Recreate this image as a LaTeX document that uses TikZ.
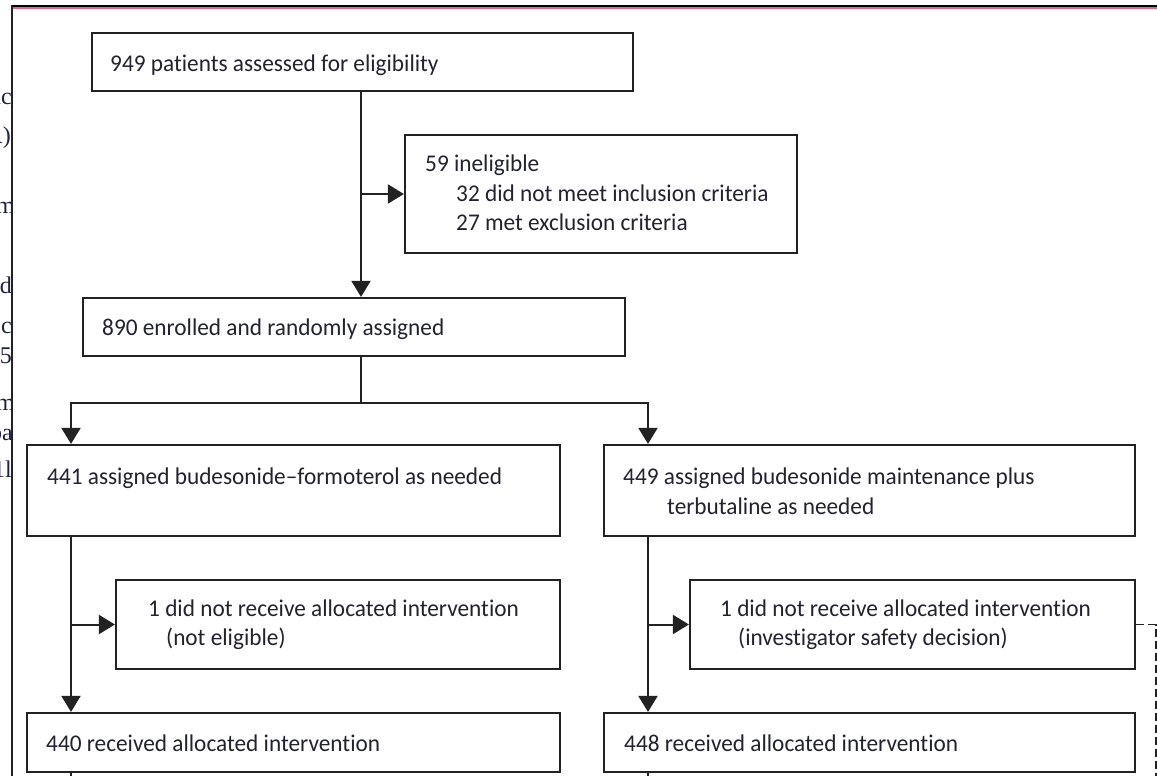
\documentclass[tikz,border=0pt]{standalone}
\usepackage{fontspec}
\setmainfont[Ligatures={TeX,NoCommon},FakeStretch=0.97]{Carlito}
\newfontfamily\fragfont{Liberation Serif}
\usetikzlibrary{arrows.meta,fit}
\definecolor{ink}{HTML}{222230}
\definecolor{rulecol}{HTML}{222222}
\definecolor{pinkrule}{HTML}{DC6A86}
\definecolor{navy}{HTML}{1E2440}
\tikzset{
  box/.style={draw=rulecol, line width=2.2pt, inner sep=0pt, rectangle},
  txt/.style={anchor=base west, inner sep=0pt, text=ink, font=\fontsize{24}{30}\selectfont},
  frag/.style={anchor=base east, inner sep=0pt, text=navy, font=\fragfont\fontsize{24}{30}\selectfont},
  conn/.style={draw=rulecol, line width=2pt},
  arr/.style={conn, -{Triangle[width=19pt,length=16pt]}},
  dashconn/.style={draw=rulecol, line width=1.6pt, dash pattern=on 8pt off 4pt}
}
\begin{document}
\begin{tikzpicture}[x=1pt,y=-1pt]
\useasboundingbox (0,0) rectangle (1157,776);

% page frame
\draw[black, line width=1.3pt] (11,6.0) -- (1157,6.0);
\draw[pinkrule, line width=2.2pt] (11,8.4) -- (1157,8.4);
\draw[rulecol, line width=1.8pt] (11.8,5.4) -- (11.8,776);

% fragments of the neighbouring column
\begin{scope}
\clip (0,0) rectangle (10.9,776);
\node[frag] (f1) at (12,104) {nc};
\node[frag] (f2) at (11,143) {A)};
\node[frag] (f3) at (15,213) {m};
\node[frag] (f4) at (12,293) {d};
\node[frag] (f5) at (12,333) {c};
\node[frag] (f6) at (12,363) {75};
\node[frag] (f7) at (15,410) {m};
\node[frag] (f8) at (13,440) {pa};
\node[frag] (f9) at (12,477) {1l};
\end{scope}

% boxes
\node[box, fit={(92,33) (633,91)}] (b1) {};
\node[box, fit={(405,135) (797,253)}] (inel) {};
\node[box, fit={(83,298) (625,356)}] (b890) {};
\node[box, fit={(27,445) (560,536)}] (b441) {};
\node[box, fit={(604,445) (1135,536)}] (b449) {};
\node[box, fit={(116,580) (560,669)}] (nr1) {};
\node[box, fit={(690,580) (1135,669)}] (nr2) {};
\node[box, fit={(27,713) (560,772)}] (b440) {};
\node[box, fit={(604,713) (1135,772)}] (b448) {};

% texts
\node[txt] (t1) at (110,72) {949 patients assessed for eligibility};
\node[txt] (t2a) at (425,171) {59 ineligible};
\node[txt] (t2b) at (456,201) {32 did not meet inclusion criteria};
\node[txt] (t2c) at (456,230) {27 met exclusion criteria};
\node[txt] (t3) at (102,335) {890 enrolled and randomly assigned};
\node[txt] (t4) at (47,484) {441 assigned budesonide–formoterol as needed};
\node[txt] (t5a) at (623,484) {449 assigned budesonide maintenance plus};
\node[txt] (t5b) at (667,514) {terbutaline as needed};
\node[txt] (t6a) at (148,616) {1 did not receive allocated intervention};
\node[txt] (t6b) at (166,645) {(not eligible)};
\node[txt] (t7a) at (720,616) {1 did not receive allocated intervention};
\node[txt] (t7b) at (738,645) {(investigator safety decision)};
\node[txt] (t8) at (46,751) {440 received allocated intervention};
\node[txt] (t9) at (624,751) {448 received allocated intervention};

% helper coordinates
\coordinate (spine) at (361,0);
\coordinate (lx) at (71,0);
\coordinate (rx) at (648,0);
\coordinate (split) at (361,403);
\coordinate (dcorner) at (1156,624.5);
\coordinate (dend) at (1156,776);
\coordinate (lbot) at (71,776);
\coordinate (rbot) at (648,776);

% connectors
\draw[arr] (b1.south -| spine) -- (b890.north -| spine);
\draw[arr] (spine |- inel.west) -- (inel.west);
\draw[conn] (b890.south -| spine) -- (split);
\draw[arr] (split) -| (b441.north -| lx);
\draw[arr] (split) -| (b449.north -| rx);
\draw[arr] (b441.south -| lx) -- (b440.north -| lx);
\draw[arr] (lx |- nr1.west) -- (nr1.west);
\draw[arr] (b449.south -| rx) -- (b448.north -| rx);
\draw[arr] (rx |- nr2.west) -- (nr2.west);
\draw[conn] (b440.south -| lx) -- (lbot);
\draw[conn] (b448.south -| rx) -- (rbot);
\draw[dashconn] (nr2.east) -- (dcorner) -- (dend);
\end{tikzpicture}
\end{document}
